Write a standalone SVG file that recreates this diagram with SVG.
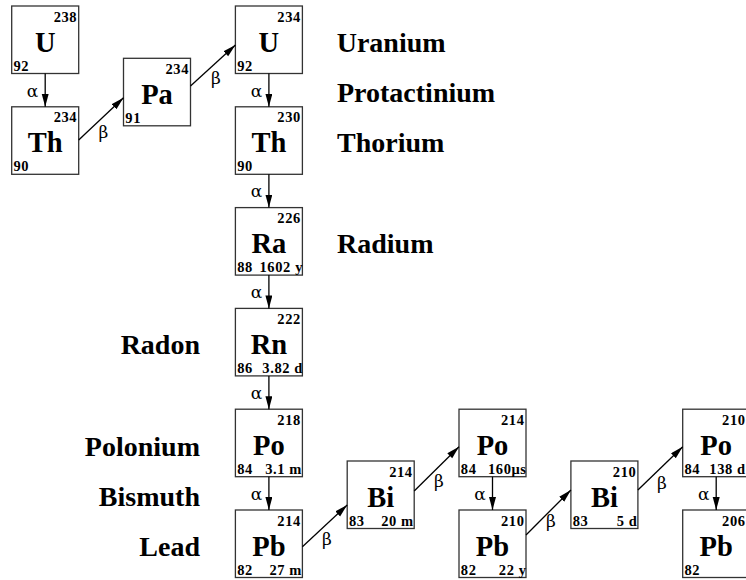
<svg xmlns="http://www.w3.org/2000/svg" width="746" height="580" viewBox="0 0 746 580">
<style>
  .bx { fill: #fff; stroke: #333; stroke-width: 1.3; }
  .sym { font-family: "Liberation Serif", serif; font-weight: bold; font-size: 28.5px; text-anchor: middle; fill: #000; }
  .sm { font-family: "Liberation Serif", serif; font-weight: bold; font-size: 14.5px; letter-spacing: 0.6px; fill: #000; }
  .mass { text-anchor: end; }
  .hl { text-anchor: end; }
  .lab { font-family: "Liberation Serif", serif; font-weight: bold; font-size: 28px; fill: #000; }
  .labr { text-anchor: end; }
  .gr { font-family: "DejaVu Serif", "Liberation Serif", serif; font-size: 17px; text-anchor: middle; fill: #000; }
  .conn line { stroke: #000; stroke-width: 1.3; marker-end: url(#ah); }
</style>
<defs>
  <marker id="ah" markerUnits="userSpaceOnUse" markerWidth="14" markerHeight="8" refX="13" refY="3.5" orient="auto">
    <path d="M0,0 L13,3.5 L0,7 Z" fill="#000"/>
  </marker>
</defs>

<g id="U238">
  <rect class="bx" x="11.7" y="6" width="67" height="67.5"/>
  <text class="sm mass" x="77.2" y="21.5">238</text>
  <text class="sym" x="45.2" y="51.5">U</text>
  <text class="sm" x="13.5" y="70.5">92</text>
</g>
<g id="Th234">
  <rect class="bx" x="11.7" y="106.8" width="67" height="67.5"/>
  <text class="sm mass" x="77.2" y="122.3">234</text>
  <text class="sym" x="45.2" y="152.3">Th</text>
  <text class="sm" x="13.5" y="171.3">90</text>
</g>
<g id="Pa234">
  <rect class="bx" x="123.5" y="58.3" width="67" height="67.5"/>
  <text class="sm mass" x="189" y="73.8">234</text>
  <text class="sym" x="157" y="103.8">Pa</text>
  <text class="sm" x="125.3" y="122.8">91</text>
</g>
<g id="U234">
  <rect class="bx" x="235.4" y="6" width="67" height="67.5"/>
  <text class="sm mass" x="300.9" y="21.5">234</text>
  <text class="sym" x="268.9" y="51.5">U</text>
  <text class="sm" x="237.2" y="70.5">92</text>
</g>
<g id="Th230">
  <rect class="bx" x="235.4" y="106.8" width="67" height="67.5"/>
  <text class="sm mass" x="300.9" y="122.3">230</text>
  <text class="sym" x="268.9" y="152.3">Th</text>
  <text class="sm" x="237.2" y="171.3">90</text>
</g>
<g id="Ra226">
  <rect class="bx" x="235.4" y="207.6" width="67" height="67.5"/>
  <text class="sm mass" x="300.9" y="223.1">226</text>
  <text class="sym" x="268.9" y="253.1">Ra</text>
  <text class="sm" x="237.2" y="272.1">88</text>
  <text class="sm hl" x="303" y="272.1">1602 y</text>
</g>
<g id="Rn222">
  <rect class="bx" x="235.4" y="308.4" width="67" height="67.5"/>
  <text class="sm mass" x="300.9" y="323.9">222</text>
  <text class="sym" x="268.9" y="353.9">Rn</text>
  <text class="sm" x="237.2" y="372.9">86</text>
  <text class="sm hl" x="303" y="372.9">3.82 d</text>
</g>
<g id="Po218">
  <rect class="bx" x="235.4" y="409.2" width="67" height="67.5"/>
  <text class="sm mass" x="300.9" y="424.7">218</text>
  <text class="sym" x="268.9" y="454.7">Po</text>
  <text class="sm" x="237.2" y="473.7">84</text>
  <text class="sm hl" x="302" y="473.7">3.1 m</text>
</g>
<g id="Pb214">
  <rect class="bx" x="235.4" y="510" width="67" height="67.5"/>
  <text class="sm mass" x="300.9" y="525.5">214</text>
  <text class="sym" x="268.9" y="555.5">Pb</text>
  <text class="sm" x="237.2" y="574.5">82</text>
  <text class="sm hl" x="302" y="574.5">27 m</text>
</g>
<g id="Bi214">
  <rect class="bx" x="347.2" y="461" width="67" height="67.5"/>
  <text class="sm mass" x="412.7" y="476.5">214</text>
  <text class="sym" x="380.7" y="506.5">Bi</text>
  <text class="sm" x="349" y="525.5">83</text>
  <text class="sm hl" x="413.8" y="525.5">20 m</text>
</g>
<g id="Po214">
  <rect class="bx" x="459" y="409.2" width="67" height="67.5"/>
  <text class="sm mass" x="524.5" y="424.7">214</text>
  <text class="sym" x="492.5" y="454.7">Po</text>
  <text class="sm" x="460.8" y="473.7">84</text>
  <text class="sm hl" x="526.6" y="473.7">160μs</text>
</g>
<g id="Pb210">
  <rect class="bx" x="459" y="510" width="67" height="67.5"/>
  <text class="sm mass" x="524.5" y="525.5">210</text>
  <text class="sym" x="492.5" y="555.5">Pb</text>
  <text class="sm" x="460.8" y="574.5">82</text>
  <text class="sm hl" x="526.6" y="574.5">22 y</text>
</g>
<g id="Bi210">
  <rect class="bx" x="570.9" y="461" width="67" height="67.5"/>
  <text class="sm mass" x="636.4" y="476.5">210</text>
  <text class="sym" x="604.4" y="506.5">Bi</text>
  <text class="sm" x="572.7" y="525.5">83</text>
  <text class="sm hl" x="637.5" y="525.5">5 d</text>
</g>
<g id="Po210">
  <rect class="bx" x="682.7" y="409.2" width="67" height="67.5"/>
  <text class="sm mass" x="745.6" y="424.7">210</text>
  <text class="sym" x="716.2" y="454.7">Po</text>
  <text class="sm" x="684.5" y="473.7">84</text>
  <text class="sm hl" x="745.8" y="473.7">138 d</text>
</g>
<g id="Pb206">
  <rect class="bx" x="682.7" y="510" width="67" height="67.5"/>
  <text class="sm mass" x="745.6" y="525.5">206</text>
  <text class="sym" x="716.2" y="555.5">Pb</text>
  <text class="sm" x="684.5" y="574.5">82</text>
</g>

<g id="names">
  <text class="lab" x="336.7" y="52">Uranium</text>
  <text class="lab" x="337" y="102">Protactinium</text>
  <text class="lab" x="337" y="152">Thorium</text>
  <text class="lab" x="337" y="252.5">Radium</text>
  <text class="lab labr" x="200" y="353.5">Radon</text>
  <text class="lab labr" x="200" y="455.5">Polonium</text>
  <text class="lab labr" x="200" y="505.5">Bismuth</text>
  <text class="lab labr" x="200" y="556">Lead</text>
</g>

<g id="connectors" class="conn">
  <line x1="45.2" y1="73.5" x2="45.2" y2="106.8"/>
  <line x1="268.9" y1="73.5" x2="268.9" y2="106.8"/>
  <line x1="268.9" y1="174.3" x2="268.9" y2="207.6"/>
  <line x1="268.9" y1="275.1" x2="268.9" y2="308.4"/>
  <line x1="268.9" y1="375.9" x2="268.9" y2="409.2"/>
  <line x1="268.9" y1="476.7" x2="268.9" y2="510"/>
  <line x1="492.5" y1="476.7" x2="492.5" y2="510"/>
  <line x1="716.2" y1="476.7" x2="716.2" y2="510"/>
  <line x1="78.7" y1="140" x2="123.5" y2="97.7"/>
  <line x1="190.5" y1="86" x2="235.4" y2="45"/>
  <line x1="302.4" y1="546.7" x2="347.2" y2="505"/>
  <line x1="414.2" y1="491" x2="459" y2="446.7"/>
  <line x1="526" y1="535" x2="570.9" y2="490"/>
  <line x1="637.9" y1="490" x2="682.7" y2="446.7"/>
  <text class="gr" x="32.5" y="96.5">α</text>
  <text class="gr" x="256.4" y="96.5">α</text>
  <text class="gr" x="256.4" y="197.3">α</text>
  <text class="gr" x="256.4" y="298.1">α</text>
  <text class="gr" x="256.4" y="398.9">α</text>
  <text class="gr" x="256.4" y="499.7">α</text>
  <text class="gr" x="480" y="499.7">α</text>
  <text class="gr" x="703.7" y="499.7">α</text>
  <text class="gr" x="103.5" y="138">β</text>
  <text class="gr" x="216" y="84">β</text>
  <text class="gr" x="327" y="545">β</text>
  <text class="gr" x="439" y="487">β</text>
  <text class="gr" x="551" y="527">β</text>
  <text class="gr" x="662" y="489">β</text>
</g>
</svg>
